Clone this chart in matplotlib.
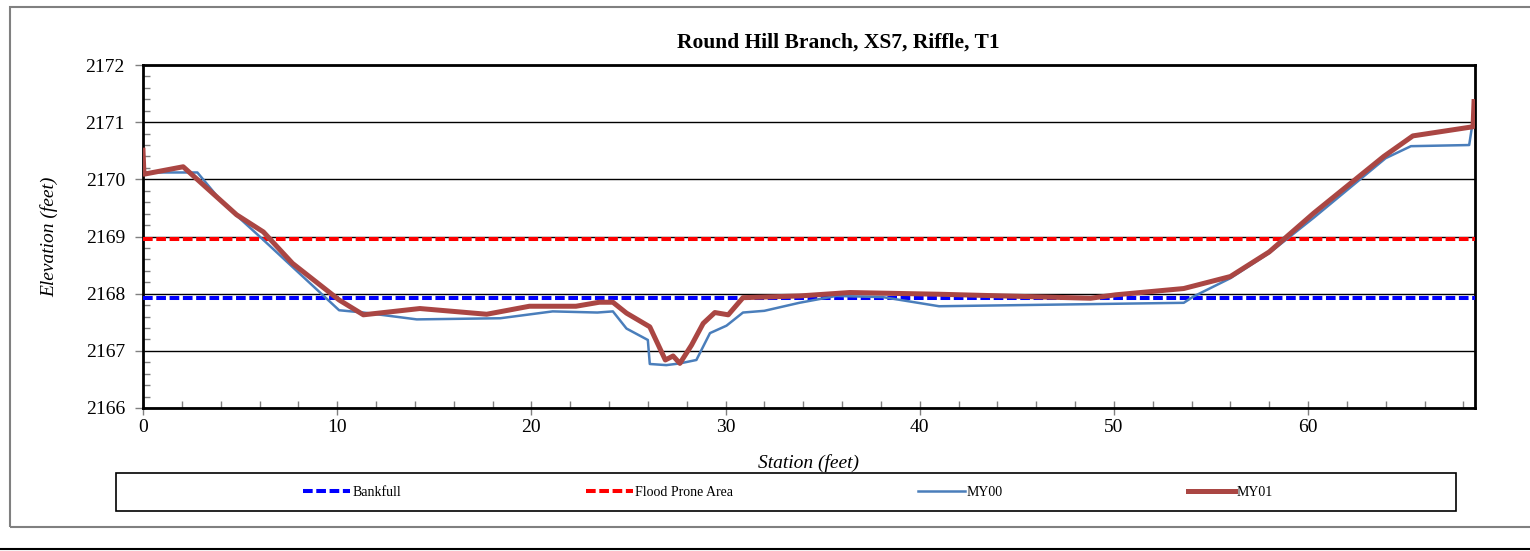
import matplotlib.pyplot as plt
from matplotlib.lines import Line2D
from matplotlib.patches import Rectangle
from matplotlib.ticker import MultipleLocator

# === Cross-section survey data (station, elevation in feet) ===
my00_station = [0, 0.1, 2.8, 4.1, 6.2, 10.1, 11.35, 14.1, 18.4, 21.1, 23.4, 24.2,
                24.9, 26.0, 26.1, 26.95, 27.65, 28.5, 29.2, 30.05, 30.9, 32.0,
                33.8, 35.7, 38.1, 41.0, 53.6, 54.1, 56.0, 58.0, 60.3, 64.0, 65.3,
                68.3, 68.5]
my00_elev = [2170.12, 2170.12, 2170.12, 2169.59, 2168.94, 2167.71, 2167.67, 2167.55,
             2167.57, 2167.69, 2167.67, 2167.69, 2167.39, 2167.19, 2166.77, 2166.75,
             2166.78, 2166.84, 2167.31, 2167.44, 2167.67, 2167.70, 2167.84, 2167.96,
             2167.94, 2167.78, 2167.84, 2167.95, 2168.27, 2168.71, 2169.33, 2170.37,
             2170.58, 2170.60, 2171.04]

my01_station = [0, 0.05, 2.07, 4.82, 6.2, 7.7, 10.1, 11.35, 14.26, 17.7, 19.9, 22.3,
                23.5, 24.2, 24.9, 26.1, 26.9, 27.3, 27.65, 28.25, 28.85, 29.45, 30.14,
                30.9, 33.8, 36.4, 41.0, 48.8, 50.1, 53.6, 56.0, 58.0, 60.3, 63.9,
                65.4, 68.5, 68.55]
my01_elev = [2170.51, 2170.09, 2170.22, 2169.38, 2169.08, 2168.53, 2167.89, 2167.63,
             2167.74, 2167.64, 2167.78, 2167.78, 2167.85, 2167.85, 2167.66, 2167.42,
             2166.84, 2166.91, 2166.78, 2167.10, 2167.48, 2167.67, 2167.63, 2167.93,
             2167.96, 2168.02, 2167.99, 2167.92, 2167.98, 2168.09, 2168.30, 2168.73,
             2169.41, 2170.40, 2170.76, 2170.92, 2171.36]

bankfull_elev = 2167.93
flood_prone_elev = 2168.96
x_range = [0, 68.6]

# === Figure setup ===
plt.rcParams["font.family"] = ["Liberation Serif", "DejaVu Serif"]
fig = plt.figure(figsize=(15.3, 5.51), dpi=100)
W, H = 1530, 551

# outer chart frame and the rule underneath it
fig.add_artist(Rectangle((10 / W, 1 - 527 / H), 1.2, (527 - 7) / H,
                         transform=fig.transFigure, fill=False,
                         edgecolor="#808080", linewidth=1.5))
fig.add_artist(Line2D([0, 1], [1 - 549 / H] * 2, transform=fig.transFigure,
                      color="black", linewidth=1.5))

ax = fig.add_axes([143 / W, 1 - 408 / H, (1475 - 143) / W, (408 - 65) / H])

# reference elevations
ax.plot(x_range, [bankfull_elev] * 2, color="#0000ff", linewidth=2.9,
        dashes=(2.4, 0.9), label="Bankfull", zorder=3)
ax.plot(x_range, [flood_prone_elev] * 2, color="#ff0000", linewidth=2.9,
        dashes=(2.4, 0.9), label="Flood Prone Area", zorder=3)

# surveyed profiles
ax.plot(my00_station, my00_elev, color="#4a7ebb", linewidth=1.8, label="MY00", zorder=4)
ax.plot(my01_station, my01_elev, color="#aa4643", linewidth=3.6, label="MY01", zorder=5)

ax.set_xlim(x_range)
ax.set_ylim(2166, 2172)
ax.xaxis.set_major_locator(MultipleLocator(10))
ax.xaxis.set_minor_locator(MultipleLocator(2))
ax.yaxis.set_major_locator(MultipleLocator(1))
ax.yaxis.set_minor_locator(MultipleLocator(0.2))
ax.yaxis.grid(True, which="major", color="black", linewidth=1.0)
ax.set_axisbelow(True)

for sp in ax.spines.values():
    sp.set_linewidth(2)
ax.tick_params(axis="y", which="major", direction="out", length=6, width=1,
               color="#808080", labelsize=14, pad=7)
ax.tick_params(axis="y", which="minor", direction="in", length=5, width=1, color="#808080")
ax.tick_params(axis="x", which="major", direction="inout", length=10, width=1,
               color="#808080", labelsize=14, pad=3)
ax.tick_params(axis="x", which="minor", direction="in", length=5, width=1, color="#808080")

ax.set_xlabel("Station (feet)", fontsize=14, style="italic", labelpad=13)
ax.set_ylabel("Elevation (feet)", fontsize=14, style="italic", labelpad=20)

fig.text(838 / W, 1 - 43 / H, "Round Hill Branch, XS7, Riffle, T1",
         ha="center", va="center", fontsize=15.5, fontweight="bold")

# === Legend in its own box below the plot ===
fig.add_artist(Rectangle((116 / W, 1 - 511 / H), (1456 - 116) / W, (511 - 473) / H,
                         transform=fig.transFigure, fill=False,
                         edgecolor="black", linewidth=1.2))
handles, labels = ax.get_legend_handles_labels()
fig.legend(handles, labels, loc="center", bbox_to_anchor=(788 / W, 1 - 492 / H),
           ncol=4, frameon=False, fontsize=10, handlelength=3.4,
           handletextpad=0.15, columnspacing=13.3)

plt.savefig("out.png", dpi=100)
